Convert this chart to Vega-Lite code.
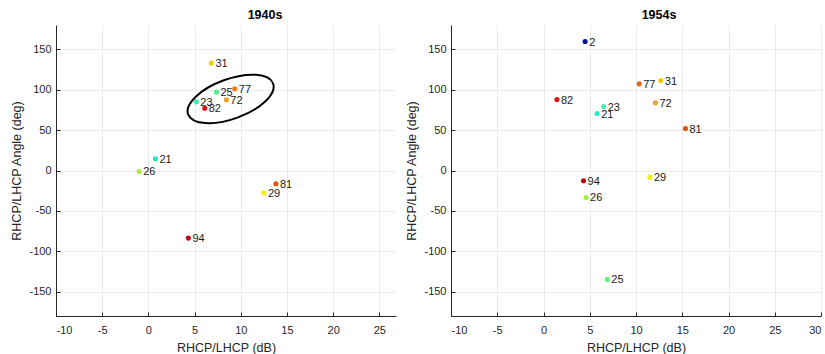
{
  "$schema": "https://vega.github.io/schema/vega-lite/v6.json",
  "padding": {"left": 10, "top": 8, "right": 0, "bottom": 0},
  "background": "white",
  "spacing": 9,
  "config": {
    "view": {"stroke": null},
    "font": "Liberation Sans",
    "axis": {
      "domainColor": "#262626", "tickColor": "#262626", "labelColor": "#262626", "titleColor": "#262626",
      "labelFont": "Liberation Sans", "titleFont": "Liberation Sans",
      "labelFontSize": 11, "titleFontSize": 12.5, "titleFontWeight": "normal",
      "gridColor": "#e3e3e3", "gridWidth": 0.7, "tickSize": -4, "labelPadding": 9, "domainWidth": 1,
      "labelExpr": "'' + datum.value"
    },
    "axisX": {"labelPadding": 12, "titlePadding": 6},
    "axisY": {"titlePadding": 5},
    "title": {"font": "Liberation Sans", "fontSize": 12.5, "fontWeight": "bold", "color": "#000000", "offset": 4}
  },
  "datasets": {
    "p1940": [
      {"label": "31", "ratio": 6.82, "angle": 133},
      {"label": "25", "ratio": 7.37, "angle": 96.9},
      {"label": "77", "ratio": 9.35, "angle": 101},
      {"label": "72", "ratio": 8.44, "angle": 87.4},
      {"label": "23", "ratio": 5.19, "angle": 84.9},
      {"label": "82", "ratio": 6.1, "angle": 77.1},
      {"label": "21", "ratio": 0.76, "angle": 14.5},
      {"label": "26", "ratio": -1.0, "angle": -1.2},
      {"label": "81", "ratio": 13.8, "angle": -16.4},
      {"label": "29", "ratio": 12.5, "angle": -27.9},
      {"label": "94", "ratio": 4.33, "angle": -83.6}
    ],
    "highlight": [
      {"ratio": 8.9, "angle": 88.5}
    ],
    "p1954": [
      {"label": "2", "ratio": 4.5, "angle": 159.5},
      {"label": "77", "ratio": 10.35, "angle": 107.2},
      {"label": "31", "ratio": 12.68, "angle": 111.2},
      {"label": "82", "ratio": 1.45, "angle": 87.8},
      {"label": "72", "ratio": 12.1, "angle": 83.7},
      {"label": "23", "ratio": 6.5, "angle": 79.1},
      {"label": "21", "ratio": 5.8, "angle": 70.5},
      {"label": "81", "ratio": 15.35, "angle": 51.9},
      {"label": "94", "ratio": 4.33, "angle": -12.7},
      {"label": "29", "ratio": 11.5, "angle": -8.2},
      {"label": "26", "ratio": 4.6, "angle": -33.4},
      {"label": "25", "ratio": 6.9, "angle": -134.7}
    ]
  },
  "hconcat": [
    {
      "width": 340, "height": 291,
      "title": {"text": "1940s", "dx": 39},
      "layer": [
        {
          "data": {"name": "p1940"},
          "mark": {"type": "point", "filled": true, "opacity": 1, "size": 26},
          "encoding": {
            "x": {"field": "ratio", "type": "quantitative", "title": "RHCP/LHCP (dB)",
                  "scale": {"domain": [-10, 26.8], "nice": false, "zero": false},
                  "axis": {"values": [-10, -5, 0, 5, 10, 15, 20, 25]}},
            "y": {"field": "angle", "type": "quantitative", "title": "RHCP/LHCP Angle (deg)",
                  "scale": {"domain": [-180, 180], "nice": false},
                  "axis": {"values": [-150, -100, -50, 0, 50, 100, 150]}},
            "color": {"field": "label", "type": "nominal", "legend": null,
                      "scale": {"domain": ["21", "23", "25", "26", "29", "31", "72", "77", "81", "82", "94"],
                                "range": ["#22e6c8", "#3cf0a8", "#58ec90", "#a6f044", "#f6ec00", "#f0d000", "#f5a020", "#f07a10", "#e85010", "#e41212", "#c00018"]}}
          }
        },
        {
          "data": {"name": "p1940"},
          "mark": {"type": "text", "align": "left", "baseline": "middle", "dx": 4, "dy": 1, "fontSize": 11, "color": "#1a1a1a", "font": "Liberation Sans"},
          "encoding": {
            "x": {"field": "ratio", "type": "quantitative"},
            "y": {"field": "angle", "type": "quantitative"},
            "text": {"field": "label"}
          }
        },
        {
          "data": {"name": "highlight"},
          "mark": {"type": "point", "filled": false, "shape": "M-1,0A1,0.44,0,1,1,1,0A1,0.44,0,1,1,-1,0Z", "size": 8172, "angle": -20, "stroke": "#000000", "strokeWidth": 2, "opacity": 1},
          "encoding": {
            "x": {"field": "ratio", "type": "quantitative"},
            "y": {"field": "angle", "type": "quantitative"}
          }
        }
      ]
    },
    {
      "width": 370, "height": 291,
      "title": {"text": "1954s", "dx": 23},
      "layer": [
        {
          "data": {"name": "p1954"},
          "mark": {"type": "point", "filled": true, "opacity": 1, "size": 26},
          "encoding": {
            "x": {"field": "ratio", "type": "quantitative", "title": "RHCP/LHCP (dB)",
                  "scale": {"domain": [-10, 30], "nice": false, "zero": false},
                  "axis": {"values": [-10, -5, 0, 5, 10, 15, 20, 25, 30]}},
            "y": {"field": "angle", "type": "quantitative", "title": "RHCP/LHCP Angle (deg)",
                  "scale": {"domain": [-180, 180], "nice": false},
                  "axis": {"values": [-150, -100, -50, 0, 50, 100, 150]}},
            "color": {"field": "label", "type": "nominal", "legend": null,
                      "scale": {"domain": ["2", "21", "23", "25", "26", "29", "31", "72", "77", "81", "82", "94"],
                                "range": ["#00109a", "#22eec4", "#44f0b0", "#64f080", "#a6f044", "#f4f000", "#f2d000", "#f4a020", "#e06818", "#e05010", "#e61212", "#c40014"]}}
          }
        },
        {
          "data": {"name": "p1954"},
          "mark": {"type": "text", "align": "left", "baseline": "middle", "dx": 4, "dy": 1, "fontSize": 11, "color": "#1a1a1a", "font": "Liberation Sans"},
          "encoding": {
            "x": {"field": "ratio", "type": "quantitative"},
            "y": {"field": "angle", "type": "quantitative"},
            "text": {"field": "label"}
          }
        }
      ]
    }
  ],
  "resolve": {"scale": {"color": "independent", "x": "independent", "y": "independent"}}
}
